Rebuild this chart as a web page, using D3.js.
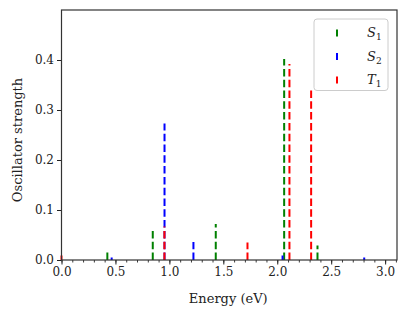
<!DOCTYPE html>
<html>
<head>
<meta charset="utf-8">
<script src="https://cdn.jsdelivr.net/npm/d3@7"></script>
<style>
  body { margin: 0; background: #fff; }
  svg text { font-family: "DejaVu Serif", "Liberation Serif", serif; fill: #222; }
</style>
</head>
<body>
<div id="chart"></div>
<script>
// excitation energies (eV) and oscillator strengths
var s1Energy = [0.425, 0.846, 1.430, 2.064, 2.373];
var s1Strength = [0.015, 0.060, 0.072, 0.402, 0.029];

var s2Energy = [0.465, 0.955, 1.223, 2.049, 2.806];
var s2Strength = [0.005, 0.273, 0.036, 0.009, 0.005];

var t1Energy = [0.0, 0.954, 1.724, 2.113, 2.314];
var t1Strength = [0.009, 0.067, 0.035, 0.392, 0.345];

var xTicks = [0.0, 0.5, 1.0, 1.5, 2.0, 2.5, 3.0];
var yTicks = [0.0, 0.1, 0.2, 0.3, 0.4];

var series = [
  { name: "S", sub: "1", energy: s1Energy, strength: s1Strength, color: "green" },
  { name: "S", sub: "2", energy: s2Energy, strength: s2Strength, color: "blue" },
  { name: "T", sub: "1", energy: t1Energy, strength: t1Strength, color: "red" }
];

var serif = "'DejaVu Serif', 'Liberation Serif', serif";

var svgWidth = 407, svgHeight = 317;
var margin = { top: 10, right: 10, bottom: 57, left: 61.5 };
var width = svgWidth - margin.left - margin.right;
var height = svgHeight - margin.top - margin.bottom;

var svg = d3.select("#chart").append("svg")
  .attr("width", svgWidth)
  .attr("height", svgHeight)
  .attr("font-family", serif);

var g = svg.append("g")
  .attr("transform", `translate(${margin.left}, ${margin.top})`);

var xScale = d3.scaleLinear().domain([0, 3.11]).range([0, width]);
var yScale = d3.scaleLinear().domain([0, 0.5]).range([height, 0]);

// minor x ticks
g.append("g")
  .attr("transform", `translate(0, ${height})`)
  .call(d3.axisBottom(xScale).tickValues(d3.range(0, 3.11, 0.1)).tickSize(2.5).tickFormat(""))
  .call(a => a.select(".domain").remove())
  .call(a => a.selectAll("line").attr("stroke", "#222").attr("stroke-width", 0.9));

// major x ticks
g.append("g")
  .attr("transform", `translate(0, ${height})`)
  .attr("font-family", serif)
  .call(d3.axisBottom(xScale).tickValues(xTicks).tickSize(4.5).tickPadding(3).tickFormat(d3.format(".1f")))
  .call(a => a.select(".domain").remove())
  .call(a => a.selectAll("line").attr("stroke", "#222").attr("stroke-width", 1))
  .call(a => a.selectAll("text").attr("font-size", 12).attr("font-family", serif).attr("fill", "#222"));

// y ticks
g.append("g")
  .attr("font-family", serif)
  .call(d3.axisLeft(yScale).tickValues(yTicks).tickSize(4.5).tickPadding(3).tickFormat(d3.format(".1f")))
  .call(a => a.select(".domain").remove())
  .call(a => a.selectAll("line").attr("stroke", "#222").attr("stroke-width", 1))
  .call(a => a.selectAll("text").attr("font-size", 12).attr("font-family", serif).attr("fill", "#222"));

// stems
series.forEach(s => {
  g.append("g").selectAll("line")
    .data(s.energy.map((e, i) => ({ e: e, f: s.strength[i] })))
    .enter()
    .append("line")
    .attr("x1", d => xScale(d.e))
    .attr("x2", d => xScale(d.e))
    .attr("y1", yScale(0))
    .attr("y2", d => yScale(d.f))
    .attr("stroke", s.color)
    .attr("stroke-width", 2)
    .attr("stroke-dasharray", "7.5,3.3");
});

// frame
g.append("rect")
  .attr("width", width)
  .attr("height", height)
  .attr("fill", "none")
  .attr("stroke", "#333")
  .attr("stroke-width", 1.2);

// legend
var legend = g.append("g").attr("transform", `translate(${314 - margin.left}, ${19 - margin.top})`);
legend.append("rect")
  .attr("width", 74)
  .attr("height", 71.5)
  .attr("rx", 3)
  .attr("fill", "white")
  .attr("fill-opacity", 0.8)
  .attr("stroke", "#ccc")
  .attr("stroke-width", 1);

series.forEach((s, i) => {
  var cy = 14 + i * 23.5;
  legend.append("line")
    .attr("x1", 23).attr("x2", 23)
    .attr("y1", cy - 3.5).attr("y2", cy + 3.5)
    .attr("stroke", s.color)
    .attr("stroke-width", 2);
  var t = legend.append("text")
    .attr("x", 53)
    .attr("y", cy + 4)
    .attr("font-family", serif)
    .attr("font-size", 13);
  t.append("tspan").attr("font-style", "italic").text(s.name);
  t.append("tspan").attr("dy", 3).attr("font-size", 9).text(s.sub);
});

// axis labels
svg.append("text")
  .attr("x", margin.left + width / 2 - 1)
  .attr("y", 303)
  .attr("text-anchor", "middle")
  .attr("font-family", serif)
  .attr("font-size", 13)
  .text("Energy (eV)");

svg.append("text")
  .attr("transform", "rotate(-90)")
  .attr("x", -(margin.top + height / 2 + 5))
  .attr("y", 22)
  .attr("text-anchor", "middle")
  .attr("font-family", serif)
  .attr("font-size", 13)
  .text("Oscillator strength");
</script>
</body>
</html>
